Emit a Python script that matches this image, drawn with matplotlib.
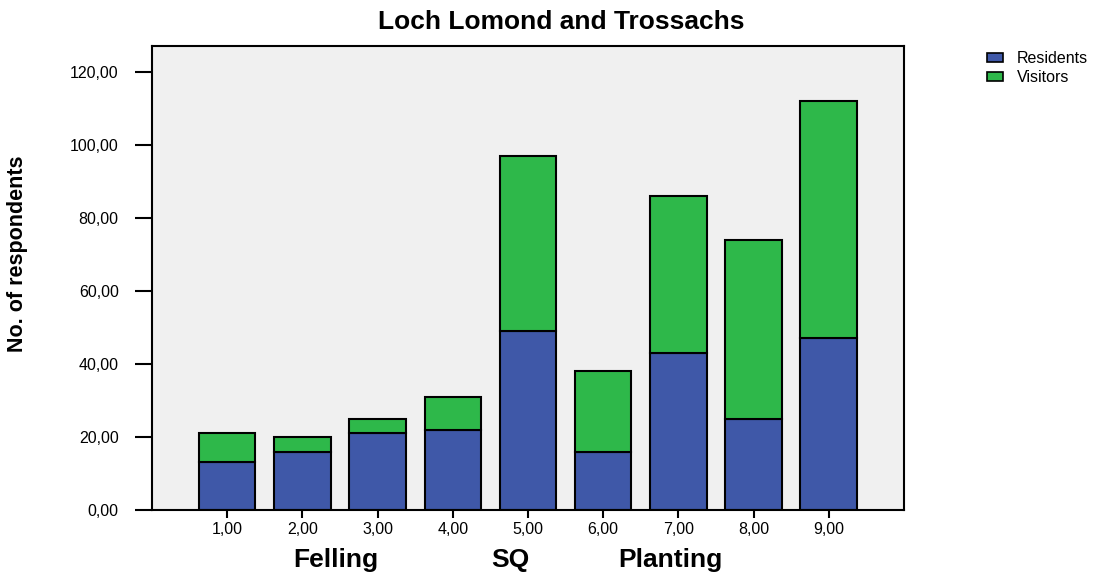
import matplotlib.pyplot as plt
from matplotlib.patches import Patch

# values
categories = [1, 2, 3, 4, 5, 6, 7, 8, 9]
tick_labels = ['1,00', '2,00', '3,00', '4,00', '5,00', '6,00', '7,00', '8,00', '9,00']
residents = [13, 16, 21, 22, 49, 16, 43, 25, 47]
visitors = [8, 4, 4, 9, 48, 22, 43, 49, 65]
groups = ['Felling', 'SQ', 'Planting']
group_pos = [2.45, 4.77, 6.9]

blue = '#3F58A8'
green = '#2EB84A'

plt.rcParams['font.family'] = ['Liberation Sans', 'DejaVu Sans']

fig = plt.figure(figsize=(10.96, 5.79), dpi=100)
ax = fig.add_axes([0.1387, 0.1192, 0.686, 0.8014])
ax.set_facecolor('#F0F0F0')

ax.bar(categories, residents, width=0.75, color=blue, edgecolor='black', linewidth=1.5, label='Residents')
ax.bar(categories, visitors, width=0.75, bottom=residents, color=green, edgecolor='black', linewidth=1.5, label='Visitors')

ax.set_xlim(0, 10)
ax.set_ylim(0, 127)
ax.set_xticks(categories)
ax.set_xticklabels(tick_labels, fontsize=11.5)
yt = [0, 20, 40, 60, 80, 100, 120]
ax.set_yticks(yt)
ax.set_yticklabels(['%d,00' % v for v in yt], fontsize=11.5)
ax.tick_params(axis='both', length=6, width=1.5, direction='out')
ax.tick_params(axis='x', pad=3)
ax.tick_params(axis='y', length=12, pad=12)
for s in ax.spines.values():
    s.set_linewidth(1.5)

for g, p in zip(groups, group_pos):
    ax.text(p, -0.108, g, transform=ax.get_xaxis_transform(), ha='center', va='center',
            fontsize=19, fontweight='bold')

# y label sits close to the left edge, placed on the figure
fig.text(18 / 1096, 1 - 254 / 579, 'No. of respondents', rotation=90, ha='center', va='center',
         fontsize=15.5, fontweight='bold')
ax.set_title('Loch Lomond and Trossachs', fontsize=19, fontweight='bold', pad=12, x=0.544)

handles = [Patch(facecolor=blue, edgecolor='black', linewidth=1.2, label='Residents'),
           Patch(facecolor=green, edgecolor='black', linewidth=1.2, label='Visitors')]
fig.legend(handles=handles, loc='upper left', bbox_to_anchor=(0.893, 0.926), frameon=False,
           fontsize=11.5, handlelength=1.05, handleheight=0.5, labelspacing=0.25, handletextpad=0.85,
           borderpad=0)

fig.savefig('out.png', dpi=100)
